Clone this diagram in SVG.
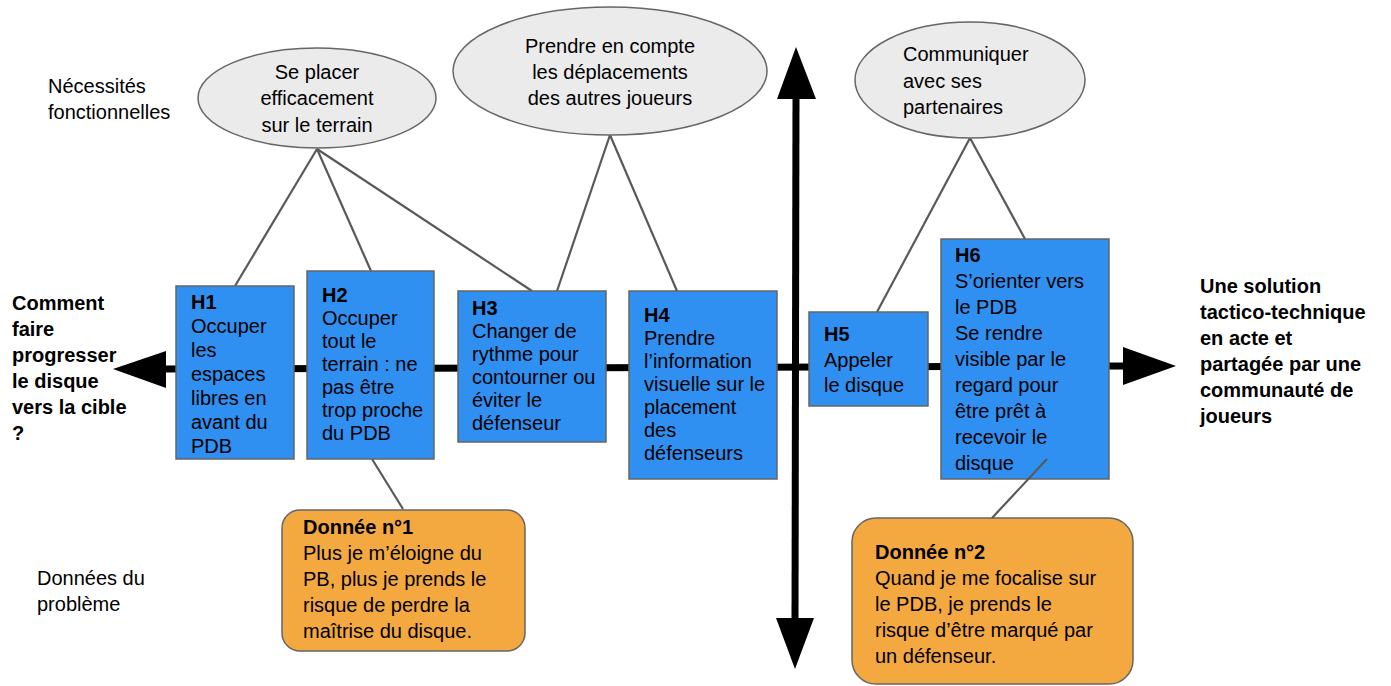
<svg xmlns="http://www.w3.org/2000/svg" width="1391" height="686" viewBox="0 0 1391 686">
<style>
text{font-family:"Liberation Sans",Arial,sans-serif;font-size:20px;fill:#000}
.b{font-weight:bold}
.ell{fill:#ebebeb;stroke:#666;stroke-width:1.5}
.hyp{fill:#2f90f1;stroke:#666;stroke-width:1.5}
.don{fill:#f3a93f;stroke:#666;stroke-width:1.5}
.con{stroke:#595959;stroke-width:2.2;fill:none}
.axis{stroke:#000;stroke-width:7;fill:none}
.mid{text-anchor:middle}
</style>
<rect width="1391" height="686" fill="#fff"/>

<g id="axes">
<line class="axis" x1="160" y1="369" x2="1128" y2="366"/>
<polygon points="113,369 166,351 166,388" fill="#000"/>
<polygon points="1176,366 1123,347 1123,385" fill="#000"/>
<line class="axis" x1="796" y1="95" x2="795" y2="622"/>
<polygon points="796,47 777,99 816,99" fill="#000"/>
<polygon points="795,669 776,618 814,618" fill="#000"/>
</g>

<g id="connectors">
<line class="con" x1="317" y1="149" x2="235" y2="286"/>
<line class="con" x1="317" y1="149" x2="371" y2="271"/>
<line class="con" x1="317" y1="149" x2="532" y2="291"/>
<line class="con" x1="610" y1="135" x2="557" y2="291"/>
<line class="con" x1="610" y1="135" x2="677" y2="291"/>
<line class="con" x1="970" y1="138" x2="877" y2="312"/>
<line class="con" x1="970" y1="138" x2="1025" y2="239"/>
<line class="con" x1="372" y1="459" x2="403" y2="509"/>
</g>

<g id="label-necessites">
<text x="48" y="93">Nécessités</text>
<text x="48" y="119">fonctionnelles</text>
</g>
<g id="label-donnees">
<text x="37" y="585">Données du</text>
<text x="37" y="611">problème</text>
</g>
<g id="label-question">
<text class="b" x="12" y="310">Comment</text>
<text class="b" x="12" y="336">faire</text>
<text class="b" x="12" y="362">progresser</text>
<text class="b" x="12" y="388">le disque</text>
<text class="b" x="12" y="414">vers la cible</text>
<text class="b" x="12" y="440">?</text>
</g>
<g id="label-solution">
<text class="b" x="1200" y="293">Une solution</text>
<text class="b" x="1200" y="319">tactico-technique</text>
<text class="b" x="1200" y="345">en acte et</text>
<text class="b" x="1200" y="371">partagée par une</text>
<text class="b" x="1200" y="397">communauté de</text>
<text class="b" x="1200" y="423">joueurs</text>
</g>

<g id="nf1">
<ellipse class="ell" cx="317" cy="98" rx="119" ry="50"/>
<text class="mid" x="317" y="79">Se placer</text>
<text class="mid" x="317" y="105">efficacement</text>
<text class="mid" x="317" y="132">sur le terrain</text>
</g>
<g id="nf2">
<ellipse class="ell" cx="610" cy="71" rx="157" ry="64"/>
<text class="mid" x="610" y="53">Prendre en compte</text>
<text class="mid" x="610" y="79">les déplacements</text>
<text class="mid" x="610" y="105">des autres joueurs</text>
</g>
<g id="nf3">
<ellipse class="ell" cx="970" cy="80" rx="115" ry="58"/>
<text x="903" y="61">Communiquer</text>
<text x="903" y="88">avec ses</text>
<text x="903" y="114">partenaires</text>
</g>

<g id="h1">
<rect class="hyp" x="176" y="286" width="118" height="173"/>
<text class="b" x="191" y="309">H1</text>
<text x="191" y="333">Occuper</text>
<text x="191" y="357">les</text>
<text x="191" y="381">espaces</text>
<text x="191" y="405">libres en</text>
<text x="191" y="429">avant du</text>
<text x="191" y="453">PDB</text>
</g>
<g id="h2">
<rect class="hyp" x="307" y="271" width="127" height="188"/>
<text class="b" x="322" y="302">H2</text>
<text x="322" y="325">Occuper</text>
<text x="322" y="348">tout le</text>
<text x="322" y="371">terrain : ne</text>
<text x="322" y="394">pas être</text>
<text x="322" y="417">trop proche</text>
<text x="322" y="440">du PDB</text>
</g>
<g id="h3">
<rect class="hyp" x="458" y="291" width="148" height="151"/>
<text class="b" x="472" y="315">H3</text>
<text x="472" y="338">Changer de</text>
<text x="472" y="361">rythme pour</text>
<text x="472" y="384">contourner ou</text>
<text x="472" y="407">éviter le</text>
<text x="472" y="430">défenseur</text>
</g>
<g id="h4">
<rect class="hyp" x="629" y="291" width="148" height="188"/>
<text class="b" x="644" y="322">H4</text>
<text x="644" y="345">Prendre</text>
<text x="644" y="368">l’information</text>
<text x="644" y="391">visuelle sur le</text>
<text x="644" y="414">placement</text>
<text x="644" y="437">des</text>
<text x="644" y="460">défenseurs</text>
</g>
<g id="h5">
<rect class="hyp" x="809" y="312" width="119" height="94"/>
<text class="b" x="824" y="341">H5</text>
<text x="824" y="367">Appeler</text>
<text x="824" y="392">le disque</text>
</g>
<g id="h6">
<rect class="hyp" x="941" y="239" width="168" height="240"/>
<text class="b" x="955" y="262">H6</text>
<text x="955" y="288">S’orienter vers</text>
<text x="955" y="314">le PDB</text>
<text x="955" y="340">Se rendre</text>
<text x="955" y="366">visible par le</text>
<text x="955" y="392">regard pour</text>
<text x="955" y="418">être prêt à</text>
<text x="955" y="444">recevoir le</text>
<text x="955" y="470">disque</text>
</g>

<g id="d1">
<rect class="don" x="282" y="510" width="243" height="141" rx="18" ry="18"/>
<text class="b" x="303" y="534">Donnée n°1</text>
<text x="303" y="560">Plus je m’éloigne du</text>
<text x="303" y="586">PB, plus je prends le</text>
<text x="303" y="612">risque de perdre la</text>
<text x="303" y="638">maîtrise du disque.</text>
</g>
<g id="d2">
<rect class="don" x="852" y="518" width="281" height="166" rx="24" ry="24"/>
<text class="b" x="875" y="559">Donnée n°2</text>
<text x="875" y="585">Quand je me focalise sur</text>
<text x="875" y="611">le PDB, je prends le</text>
<text x="875" y="637">risque d’être marqué par</text>
<text x="875" y="663">un défenseur.</text>
</g>

<g id="connectors-over">
<line class="con" x1="1047" y1="459" x2="992" y2="518"/>
</g>
</svg>
